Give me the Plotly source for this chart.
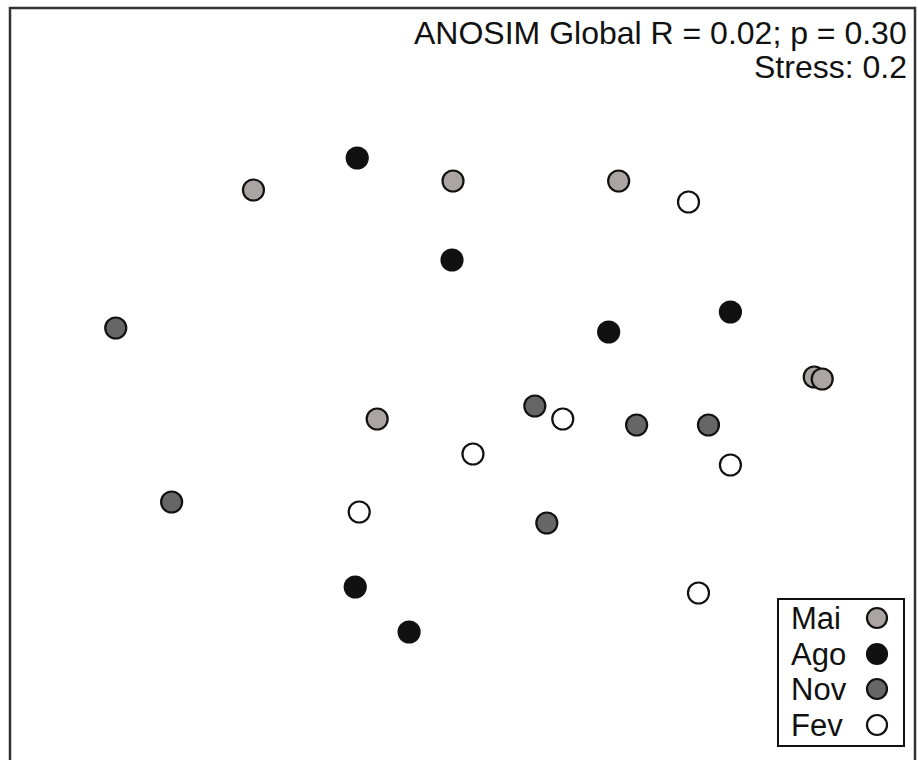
import plotly.graph_objects as go

# NMDS coordinates (arbitrary units)
groups = ["Mai", "Ago", "Nov", "Fev"]
mai_x = [-1.03, -0.03, 0.80, 1.78, 1.82, -0.41]
mai_y = [0.95, 0.995, 0.995, 0.015, 0.005, -0.195]
ago_x = [-0.51, -0.035, 0.75, 1.36, -0.52, -0.25]
ago_y = [1.11, 0.60, 0.24, 0.34, -1.035, -1.26]
nov_x = [-1.72, 0.38, 0.89, 1.25, -1.44, 0.44]
nov_y = [0.26, -0.13, -0.225, -0.225, -0.61, -0.715]
fev_x = [1.15, 0.52, 0.07, 1.36, -0.50, 1.20]
fev_y = [0.89, -0.195, -0.37, -0.425, -0.66, -1.065]

stat_line1 = "ANOSIM Global R = 0.02; p = 0.30"
stat_line2 = "Stress: 0.2"

fills = {"Mai": "#aaa5a4", "Ago": "#111111", "Nov": "#666666", "Fev": "#ffffff"}
data = {"Mai": (mai_x, mai_y), "Ago": (ago_x, ago_y), "Nov": (nov_x, nov_y), "Fev": (fev_x, fev_y)}

FONT = "Liberation Sans, Arial, sans-serif"
fig = go.Figure()
for g in groups:
    xs, ys = data[g]
    fig.add_trace(go.Scatter(
        x=xs, y=ys, mode="markers", name=g, showlegend=False,
        marker=dict(size=21, color=fills[g], line=dict(color="#111111", width=2.2)),
    ))

# manual legend (text left, symbol right) on an overlay axis in [0,1]
leg_y = [1 - 618 / 760, 1 - 654 / 760, 1 - 689 / 760, 1 - 725 / 760]
leg_sym_x = 877 / 918
leg_txt_x = 789 / 918
fig.add_trace(go.Scatter(
    x=[leg_sym_x] * 4, y=leg_y, xaxis="x2", yaxis="y2", mode="markers", showlegend=False,
    marker=dict(size=20, color=[fills[g] for g in groups], line=dict(color="#111111", width=2.2)),
))
for g, yy in zip(groups, leg_y):
    fig.add_annotation(x=leg_txt_x, y=yy, xref="paper", yref="paper", text=g, showarrow=False,
                       xanchor="left", yanchor="middle", font=dict(family=FONT, size=31, color="#111111"))

fig.add_annotation(x=909 / 918, y=1 - 33 / 760, xref="paper", yref="paper", text=stat_line1, showarrow=False,
                   xanchor="right", yanchor="middle", font=dict(family=FONT, size=32, color="#111111"))
fig.add_annotation(x=909 / 918, y=1 - 67 / 760, xref="paper", yref="paper", text=stat_line2, showarrow=False,
                   xanchor="right", yanchor="middle", font=dict(family=FONT, size=32, color="#111111"))

# outer frame and legend box
fig.add_shape(type="rect", xref="paper", yref="paper", x0=10 / 918, x1=915 / 918, y0=-0.05, y1=1 - 8 / 760,
              line=dict(color="#333333", width=2.5), fillcolor="rgba(0,0,0,0)")
fig.add_shape(type="rect", xref="paper", yref="paper", x0=778 / 918, x1=904 / 918, y0=1 - 746 / 760, y1=1 - 599 / 760,
              line=dict(color="#111111", width=2), fillcolor="rgba(0,0,0,0)")

fig.update_layout(
    width=918, height=760, margin=dict(l=0, r=0, t=0, b=0),
    paper_bgcolor="white", plot_bgcolor="white",
    xaxis=dict(range=[-2.3, 2.3], visible=False),
    yaxis=dict(range=[-1.9, 1.9], visible=False),
    xaxis2=dict(range=[0, 1], visible=False, overlaying="x"),
    yaxis2=dict(range=[0, 1], visible=False, overlaying="y"),
)
fig.write_html("out.html")
